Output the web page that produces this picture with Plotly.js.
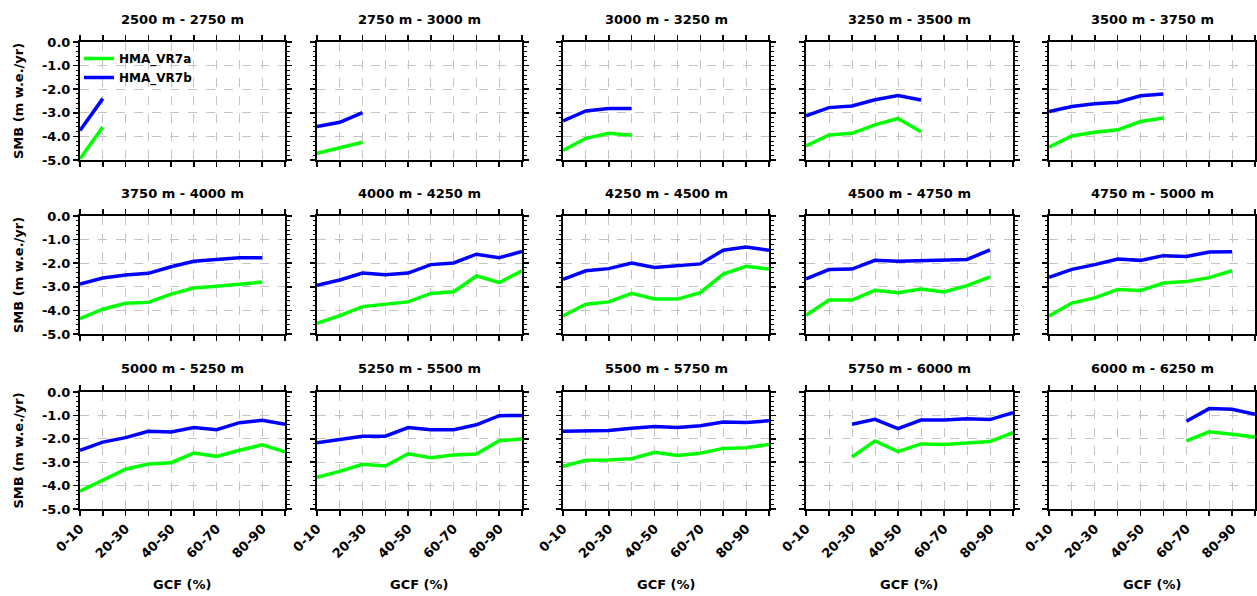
<!DOCTYPE html>
<html><head><meta charset="utf-8">
<script src="https://cdn.plot.ly/plotly-3.0.1.min.js"></script>
<style>html,body{margin:0;padding:0;background:#fff}</style>
</head><body><div id="chart" style="width:1257px;height:596px"></div>
<script>
const categories = ['0-10','10-20','20-30','30-40','40-50','50-60','60-70','70-80','80-90','90-100'];
const tickLabels = ['0-10','','20-30','','40-50','','60-70','','80-90',''];
const yTickVals = [0,-1,-2,-3,-4,-5];
const yTickText = ['0.0','-1.0','-2.0','-3.0','-4.0','-5.0'];
const panelTitles = ['2500 m - 2750 m','2750 m - 3000 m','3000 m - 3250 m','3250 m - 3500 m','3500 m - 3750 m',
  '3750 m - 4000 m','4000 m - 4250 m','4250 m - 4500 m','4500 m - 4750 m','4750 m - 5000 m',
  '5000 m - 5250 m','5250 m - 5500 m','5500 m - 5750 m','5750 m - 6000 m','6000 m - 6250 m'];
const seriesNames = ['HMA_VR7a','HMA_VR7b'];

// HMA_VR7a (green)
const a_2500 = [-4.95,-3.6,null,null,null,null,null,null,null,null];
const a_2750 = [-4.72,-4.5,-4.25,null,null,null,null,null,null,null];
const a_3000 = [-4.6,-4.08,-3.87,-3.95,null,null,null,null,null,null];
const a_3250 = [-4.4,-3.94,-3.87,-3.51,-3.24,-3.8,null,null,null,null];
const a_3500 = [-4.46,-3.98,-3.82,-3.72,-3.37,-3.22,null,null,null,null];
const a_3750 = [-4.35,-3.95,-3.7,-3.66,-3.31,-3.05,-2.98,-2.9,-2.8,null];
const a_4000 = [-4.55,-4.22,-3.84,-3.74,-3.64,-3.28,-3.21,-2.54,-2.82,-2.32];
const a_4250 = [-4.24,-3.74,-3.64,-3.28,-3.52,-3.52,-3.25,-2.46,-2.13,-2.25];
const a_4500 = [-4.21,-3.56,-3.56,-3.15,-3.25,-3.09,-3.22,-2.95,-2.58,null];
const a_4750 = [-4.24,-3.69,-3.47,-3.11,-3.16,-2.84,-2.78,-2.61,-2.32,null];
const a_5000 = [-4.24,-3.77,-3.3,-3.08,-3.02,-2.61,-2.75,-2.49,-2.26,-2.56];
const a_5250 = [-3.65,-3.39,-3.09,-3.16,-2.64,-2.81,-2.69,-2.65,-2.08,-2.01];
const a_5500 = [-3.18,-2.92,-2.91,-2.85,-2.58,-2.71,-2.62,-2.41,-2.38,-2.24];
const a_5750 = [null,null,-2.78,-2.09,-2.55,-2.22,-2.24,-2.18,-2.12,-1.74];
const a_6000 = [null,null,null,null,null,null,-2.09,-1.7,-1.81,-1.92];

// HMA_VR7b (blue)
const b_2500 = [-3.75,-2.4,null,null,null,null,null,null,null,null];
const b_2750 = [-3.58,-3.4,-2.99,null,null,null,null,null,null,null];
const b_3000 = [-3.34,-2.92,-2.82,-2.82,null,null,null,null,null,null];
const b_3250 = [-3.13,-2.78,-2.71,-2.45,-2.27,-2.46,null,null,null,null];
const b_3500 = [-2.95,-2.73,-2.62,-2.55,-2.28,-2.2,null,null,null,null];
const b_3750 = [-2.88,-2.63,-2.5,-2.43,-2.15,-1.92,-1.84,-1.77,-1.77,null];
const b_4000 = [-2.94,-2.71,-2.42,-2.49,-2.42,-2.06,-1.99,-1.62,-1.77,-1.5];
const b_4250 = [-2.68,-2.32,-2.23,-1.99,-2.18,-2.09,-2.03,-1.45,-1.31,-1.45];
const b_4500 = [-2.66,-2.27,-2.25,-1.88,-1.92,-1.89,-1.89,-1.84,-1.44,null];
const b_4750 = [-2.6,-2.26,-2.06,-1.82,-1.88,-1.68,-1.72,-1.53,-1.51,null];
const b_5000 = [-2.49,-2.14,-1.95,-1.68,-1.71,-1.52,-1.61,-1.31,-1.21,-1.38];
const b_5250 = [-2.17,-2.02,-1.89,-1.89,-1.52,-1.61,-1.61,-1.4,-1.01,-1.0];
const b_5500 = [-1.68,-1.67,-1.64,-1.55,-1.47,-1.52,-1.44,-1.28,-1.3,-1.23];
const b_5750 = [null,null,-1.38,-1.17,-1.57,-1.2,-1.2,-1.14,-1.18,-0.88];
const b_6000 = [null,null,null,null,null,null,-1.25,-0.71,-0.74,-0.95];

const seriesA = [a_2500,a_2750,a_3000,a_3250,a_3500,a_3750,a_4000,a_4250,a_4500,a_4750,a_5000,a_5250,a_5500,a_5750,a_6000];
const seriesB = [b_2500,b_2750,b_3000,b_3250,b_3500,b_3750,b_4000,b_4250,b_4500,b_4750,b_5000,b_5250,b_5500,b_5750,b_6000];

const W = 1257, H = 596;
const colPx = [[80,285],[317,522],[563,769],[806,1013],[1049,1255]];
const rowPx = [[42,160],[216,334],[392,509]];
const titleY = [20,193,368];
const FONT = 'DejaVu Sans, Liberation Sans, sans-serif';
const px2x = p => p / W;
const px2y = p => 1 - p / H;

const data = [];
const layout = {
  width: W, height: H,
  margin: {l:0, r:0, t:0, b:0},
  paper_bgcolor: '#ffffff', plot_bgcolor: '#ffffff',
  font: {family: FONT, size: 13, color: '#000', weight: 'bold'},
  showlegend: true,
  legend: {x: px2x(79), y: px2y(44), xanchor: 'left', yanchor: 'top',
    bgcolor: 'rgba(0,0,0,0)', borderwidth: 0,
    font: {family: FONT, size: 12, color: '#000', weight: 'bold'},
    tracegroupgap: 0, itemwidth: 30},
  annotations: []
};

for (let i = 0; i < 15; i++) {
  const r = Math.floor(i / 5), c = i % 5;
  const sfx = i === 0 ? '' : String(i + 1);
  const xa = 'x' + sfx, ya = 'y' + sfx;
  data.push({x: categories, y: seriesA[i], xaxis: xa, yaxis: ya, type: 'scatter', mode: 'lines',
    name: seriesNames[0], legendgroup: 'a', showlegend: i === 0,
    line: {color: '#00ff00', width: 3.5}, connectgaps: false, hoverinfo: 'skip'});
  data.push({x: categories, y: seriesB[i], xaxis: xa, yaxis: ya, type: 'scatter', mode: 'lines',
    name: seriesNames[1], legendgroup: 'b', showlegend: i === 0,
    line: {color: '#0000ff', width: 3.5}, connectgaps: false, hoverinfo: 'skip'});

  layout['xaxis' + sfx] = {
    domain: [px2x(colPx[c][0]), px2x(colPx[c][1])],
    anchor: ya, type: 'category', categoryarray: categories, categoryorder: 'array',
    range: [0, 9], fixedrange: true,
    tickmode: 'array', tickvals: categories, ticktext: tickLabels,
    showticklabels: r === 2, tickangle: -45,
    tickfont: {family: FONT, size: 13, color: '#000', weight: 'bold'},
    ticks: 'outside', ticklen: 5, tickwidth: 1.5, tickcolor: '#000',
    showline: true, linecolor: '#000', linewidth: 2, mirror: 'allticks',
    showgrid: true, gridcolor: '#c4c4c4', griddash: 'dash', gridwidth: 1,
    zeroline: false
  };
  layout['yaxis' + sfx] = {
    domain: [px2y(rowPx[r][1]), px2y(rowPx[r][0])],
    anchor: xa, range: [-5, 0], fixedrange: true,
    tickmode: 'array', tickvals: yTickVals, ticktext: yTickText,
    showticklabels: c === 0,
    tickfont: {family: FONT, size: 13, color: '#000', weight: 'bold'},
    ticks: 'outside', ticklen: 5, tickwidth: 1.5, tickcolor: '#000',
    minor: {ticks: 'outside', ticklen: 2.5, tickwidth: 1, tickcolor: '#000', dtick: 0.2, tick0: 0, showgrid: false},
    showline: true, linecolor: '#000', linewidth: 2, mirror: 'allticks',
    showgrid: true, gridcolor: '#c4c4c4', griddash: 'dash', gridwidth: 1,
    zeroline: false
  };

  layout.annotations.push({
    text: panelTitles[i], xref: 'paper', yref: 'paper',
    x: px2x((colPx[c][0] + colPx[c][1]) / 2), y: px2y(titleY[r]),
    xanchor: 'center', yanchor: 'middle', showarrow: false,
    font: {family: FONT, size: 13, color: '#000', weight: 'bold'}
  });
  if (c === 0) {
    layout.annotations.push({
      text: 'SMB (m w.e./yr)', xref: 'paper', yref: 'paper',
      x: px2x(18), y: px2y((rowPx[r][0] + rowPx[r][1]) / 2),
      xanchor: 'center', yanchor: 'middle', textangle: -90, showarrow: false,
      font: {family: FONT, size: 13, color: '#000', weight: 'bold'}
    });
  }
  if (r === 2) {
    layout.annotations.push({
      text: 'GCF (%)', xref: 'paper', yref: 'paper',
      x: px2x((colPx[c][0] + colPx[c][1]) / 2), y: px2y(584),
      xanchor: 'center', yanchor: 'middle', showarrow: false,
      font: {family: FONT, size: 13, color: '#000', weight: 'bold'}
    });
  }
}

Plotly.newPlot('chart', data, layout, {displayModeBar: false, staticPlot: true});
</script>
</body></html>
